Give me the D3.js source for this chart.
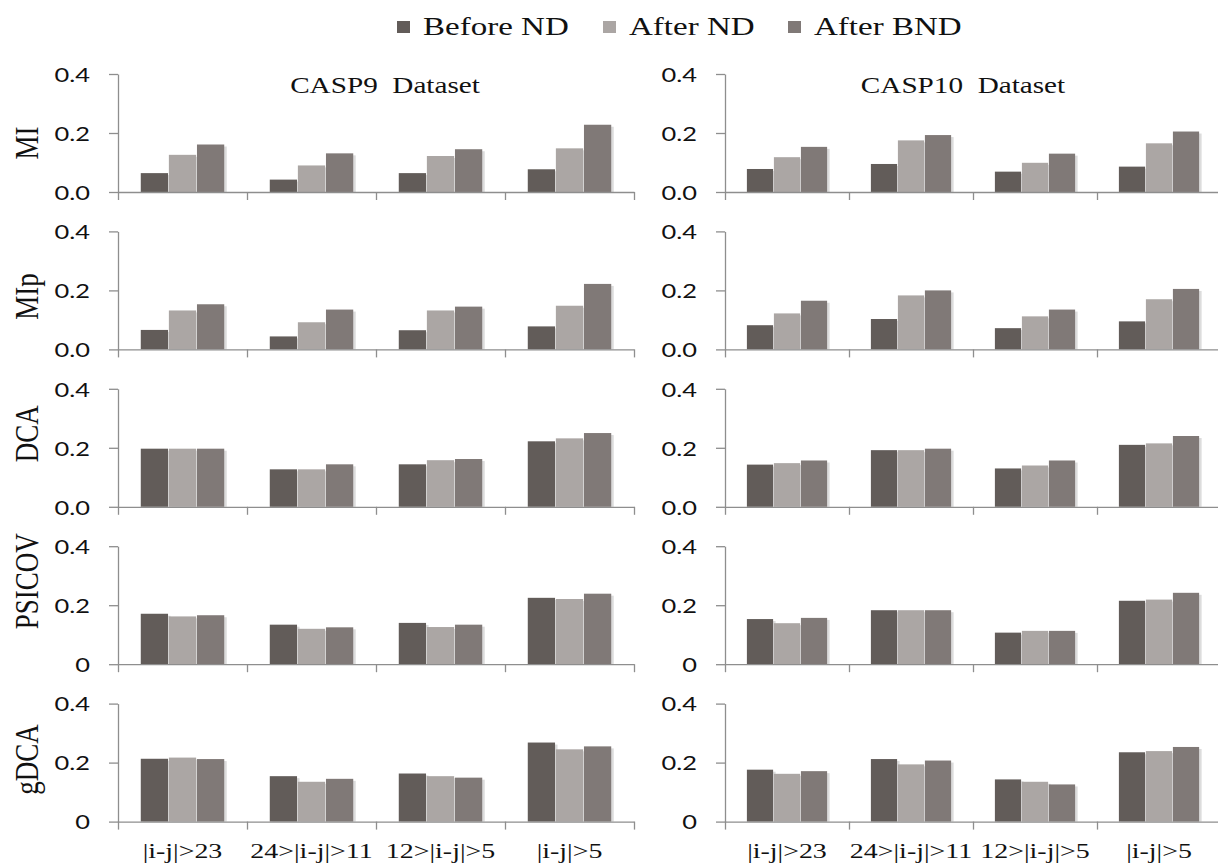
<!DOCTYPE html>
<html lang="en">
<head>
<meta charset="UTF-8">
<title>ND vs BND</title>
<script src="https://cdn.jsdelivr.net/npm/d3@7"></script>
<style>
  body { margin: 0; background: #fff; overflow: hidden; }
  text { white-space: pre; }
</style>
</head>
<body>
<script>
// ---- data ----
const categories = ["|i-j|>23", "24>|i-j|>11", "12>|i-j|>5", "|i-j|>5"];
const seriesNames = ["Before ND", "After ND", "After BND"];
const methods = ["MI", "MIp", "DCA", "PSICOV", "gDCA"];
const datasets = ["CASP9  Dataset", "CASP10  Dataset"];
const yTicks = [0, 0.2, 0.4];

// values[method] = [beforeND, afterND, afterBND], one number per category
const casp9MI     = [[0.064, 0.042, 0.064, 0.077], [0.126, 0.090, 0.122, 0.148], [0.161, 0.131, 0.145, 0.228]];
const casp9MIp    = [[0.066, 0.044, 0.065, 0.078], [0.132, 0.092, 0.132, 0.148], [0.153, 0.135, 0.145, 0.222]];
const casp9DCA    = [[0.197, 0.127, 0.144, 0.222], [0.197, 0.127, 0.158, 0.232], [0.197, 0.144, 0.162, 0.250]];
const casp9PSICOV = [[0.171, 0.134, 0.140, 0.225], [0.162, 0.120, 0.126, 0.221], [0.166, 0.125, 0.134, 0.239]];
const casp9gDCA   = [[0.213, 0.154, 0.163, 0.268], [0.217, 0.135, 0.154, 0.245], [0.212, 0.145, 0.149, 0.255]];

const casp10MI     = [[0.078, 0.095, 0.069, 0.086], [0.118, 0.175, 0.099, 0.165], [0.153, 0.193, 0.130, 0.205]];
const casp10MIp    = [[0.082, 0.103, 0.072, 0.095], [0.122, 0.183, 0.112, 0.170], [0.165, 0.200, 0.135, 0.205]];
const casp10DCA    = [[0.143, 0.192, 0.130, 0.210], [0.148, 0.192, 0.140, 0.215], [0.157, 0.197, 0.157, 0.240]];
const casp10PSICOV = [[0.153, 0.183, 0.107, 0.215], [0.139, 0.183, 0.113, 0.219], [0.157, 0.183, 0.113, 0.242]];
const casp10gDCA   = [[0.176, 0.212, 0.143, 0.235], [0.162, 0.194, 0.135, 0.239], [0.171, 0.207, 0.126, 0.253]];

const tables = [
  [casp9MI, casp9MIp, casp9DCA, casp9PSICOV, casp9gDCA],
  [casp10MI, casp10MIp, casp10DCA, casp10PSICOV, casp10gDCA]
];

// ---- layout ----
const W = 1218, H = 865;
const colors = ["#625c59", "#aba6a4", "#807977"];
const axisColor = "#8e8e8e";
const stretch = 1.27;           // the figure is wider than it is tall
const panels = [{x0: 118, x1: 634}, {x0: 725, x1: 1221}];
const rowTop = i => 74 + i * 157.4;
const rowH = 118;
const labelShift = [10, 6, -14, -24, -3];

const svg = d3.select("body").append("svg")
    .attr("width", W).attr("height", H);

function txt(g, s, x, y, opt) {
  const t = g.append("text")
      .attr("transform", `translate(${x},${y}) scale(${stretch},1)` + (opt.rotate ? " rotate(-90)" : ""))
      .attr("font-family", opt.family)
      .attr("font-size", opt.size)
      .attr("text-anchor", opt.anchor || "start")
      .attr("dominant-baseline", opt.baseline || "auto")
      .attr("fill", opt.fill || "#111")
      .text(s);
  return t;
}

const serif = "'Liberation Serif', 'Times New Roman', serif";
const sans = "Lato, 'Open Sans', sans-serif";

// legend
const legendX = [397, 603, 788];
seriesNames.forEach((n, i) => {
  svg.append("rect").attr("x", legendX[i]).attr("y", 21).attr("width", 13).attr("height", 12)
      .attr("fill", colors[i]);
  txt(svg, n, legendX[i] + 26, 35, {family: serif, size: 26});
});

panels.forEach((p, pi) => {
  const x = d3.scaleBand().domain(categories).range([p.x0, p.x1]).paddingInner(0).paddingOuter(0);
  const xs = d3.scaleBand().domain(seriesNames).range([0, x.bandwidth() * 0.66]).padding(0.03);
  const groupOff = x.bandwidth() * 0.17;

  methods.forEach((m, ri) => {
    const top = rowTop(ri);
    const y = d3.scaleLinear().domain([0, 0.4]).range([top + rowH, top]);
    const g = svg.append("g");
    const vals = tables[pi][ri];

    // bars with a light drop shadow on the right
    seriesNames.forEach((s, si) => {
      const bx = c => x(c) + groupOff + xs(s);
      g.selectAll(null).data(categories).join("rect")
          .attr("x", c => bx(c) + 2.5)
          .attr("y", (c, ci) => y(vals[si][ci]) + 2)
          .attr("width", xs.bandwidth())
          .attr("height", (c, ci) => y(0) - y(vals[si][ci]) - 2)
          .attr("fill", "#dcdcdc");
      g.selectAll(null).data(categories).join("rect")
          .attr("x", c => bx(c))
          .attr("y", (c, ci) => y(vals[si][ci]))
          .attr("width", xs.bandwidth())
          .attr("height", (c, ci) => y(0) - y(vals[si][ci]))
          .attr("fill", colors[si]);
    });

    // y axis
    const fmt = ri < 3 ? d3.format(".1f") : (v => v === 0 ? "0" : d3.format(".1f")(v));
    const ya = g.append("g").attr("transform", `translate(${p.x0},0)`)
        .call(d3.axisLeft(y).tickValues(yTicks).tickSize(9).tickSizeOuter(0).tickFormat(""));
    ya.selectAll("path, line").attr("stroke", axisColor).attr("stroke-width", 1.3);
    yTicks.forEach(v => txt(g, fmt(v), p.x0 - 28, y(v), {family: sans, size: 20, anchor: "end", baseline: "central"}));

    // x axis
    const xa = g.append("g").attr("transform", `translate(0,${y(0)})`)
        .call(d3.axisBottom(d3.scaleLinear().domain([0, 4]).range([p.x0, p.x1]))
            .tickValues(d3.range(5)).tickSize(8).tickSizeOuter(0).tickFormat(""));
    xa.selectAll("path, line").attr("stroke", axisColor).attr("stroke-width", 1.3);

    // row label
    if (pi === 0) {
      txt(g, m, 38, top + rowH / 2 + labelShift[ri], {family: serif, size: 27, anchor: "middle", rotate: true});
    }
    // category labels under the last row
    if (ri === methods.length - 1) {
      categories.forEach(c => txt(g, c, x(c) + x.bandwidth() / 2, 858, {family: serif, size: 22, anchor: "middle"}));
    }
  });

  // dataset title
  txt(svg, datasets[pi], pi === 0 ? 385 : 963, 93, {family: serif, size: 23, anchor: "middle"});
});
</script>
</body>
</html>
